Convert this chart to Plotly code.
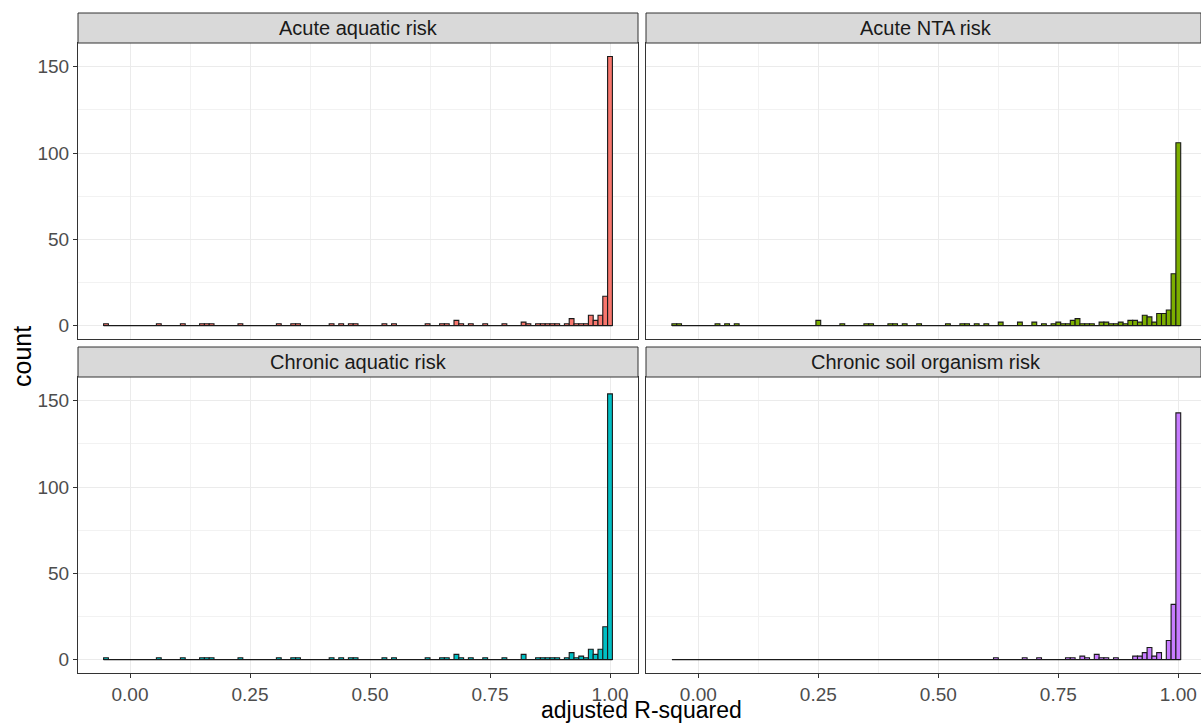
import plotly.graph_objects as go

# ---------------- data (bin centres, binwidth 0.01) ----------------
BIN_WIDTH = 0.01
BIN_FIRST = -0.05
BIN_LAST = 1.00

panel_titles = ["Acute aquatic risk", "Acute NTA risk",
                "Chronic aquatic risk", "Chronic soil organism risk"]
panel_colors = ["#F8766D", "#7CAE00", "#00BFC4", "#C77CFF"]

acute_aquatic_bins = [-0.05, 0.06, 0.11, 0.15, 0.16, 0.17, 0.23, 0.31, 0.34, 0.35,
                      0.42, 0.44, 0.46, 0.47, 0.53, 0.55, 0.62, 0.65, 0.66, 0.68,
                      0.69, 0.71, 0.74, 0.78, 0.82, 0.83, 0.85, 0.86, 0.87, 0.88,
                      0.89, 0.91, 0.92, 0.93, 0.94, 0.95, 0.96, 0.97, 0.98, 0.99, 1.00]
acute_aquatic_counts = [1, 1, 1, 1, 1, 1, 1, 1, 1, 1,
                        1, 1, 1, 1, 1, 1, 1, 1, 1, 3,
                        1, 1, 1, 1, 2, 1, 1, 1, 1, 1,
                        1, 1, 4, 1, 1, 1, 6, 3, 6, 17, 156]

acute_nta_bins = [-0.05, -0.04, 0.04, 0.06, 0.08, 0.25, 0.30, 0.35, 0.36, 0.40,
                  0.41, 0.43, 0.46, 0.52, 0.55, 0.56, 0.58, 0.60, 0.63, 0.67,
                  0.70, 0.72, 0.74, 0.75, 0.76, 0.77, 0.78, 0.79, 0.80, 0.81,
                  0.82, 0.84, 0.85, 0.86, 0.87, 0.88, 0.89, 0.90, 0.91, 0.92,
                  0.93, 0.94, 0.95, 0.96, 0.97, 0.98, 0.99, 1.00]
acute_nta_counts = [1, 1, 1, 1, 1, 3, 1, 1, 1, 1,
                    1, 1, 1, 1, 1, 1, 1, 1, 2, 2,
                    2, 1, 1, 2, 1, 1, 3, 4, 1, 1,
                    1, 2, 2, 1, 1, 2, 1, 3, 3, 2,
                    6, 5, 2, 7, 7, 9, 30, 106]

chronic_aquatic_bins = [-0.05, 0.06, 0.11, 0.15, 0.16, 0.17, 0.23, 0.31, 0.34, 0.35,
                        0.42, 0.44, 0.46, 0.47, 0.53, 0.55, 0.62, 0.65, 0.66, 0.68,
                        0.69, 0.71, 0.74, 0.78, 0.82, 0.85, 0.86, 0.87, 0.88, 0.89,
                        0.91, 0.92, 0.93, 0.94, 0.95, 0.96, 0.97, 0.98, 0.99, 1.00]
chronic_aquatic_counts = [1, 1, 1, 1, 1, 1, 1, 1, 1, 1,
                          1, 1, 1, 1, 1, 1, 1, 1, 1, 3,
                          1, 1, 1, 1, 3, 1, 1, 1, 1, 1,
                          1, 4, 1, 2, 1, 6, 3, 6, 19, 154]

chronic_soil_bins = [0.62, 0.68, 0.71, 0.77, 0.78, 0.80, 0.81, 0.83, 0.84, 0.85,
                     0.87, 0.91, 0.92, 0.93, 0.94, 0.95, 0.96, 0.98, 0.99, 1.00]
chronic_soil_counts = [1, 1, 1, 1, 1, 2, 1, 3, 1, 1,
                       1, 2, 2, 4, 7, 2, 4, 11, 32, 143]

panel_bins = [acute_aquatic_bins, acute_nta_bins, chronic_aquatic_bins, chronic_soil_bins]
panel_counts = [acute_aquatic_counts, acute_nta_counts, chronic_aquatic_counts, chronic_soil_counts]

x_tick_vals = [0, 0.25, 0.5, 0.75, 1.0]
x_tick_text = ["0.00", "0.25", "0.50", "0.75", "1.00"]
x_minor_vals = [0.125, 0.375, 0.625, 0.875]
y_tick_vals = [0, 50, 100, 150]
y_minor_vals = [25, 75, 125]

x_title = "adjusted R-squared"
y_title = "count"

# ---------------- layout geometry ----------------
W, H = 1201, 724
FONT = "Liberation Sans, Arial, sans-serif"


def px(x):
    return x / W


def py(y):
    return 1 - y / H


# panel pixel boxes (left, right, top, bottom)
cols = [(78, 638), (646, 1201)]
rows = [(43, 339), (377, 673)]
strip_h = 30
x_zero_px = [130, 698.3]
px_per_unit = 480.0
y_range = [-7.8, 163.8]

fig = go.Figure()
layout = dict(
    width=W, height=H,
    margin=dict(l=0, r=0, t=0, b=0),
    paper_bgcolor="white", plot_bgcolor="white",
    showlegend=False, barmode="overlay",
    font=dict(family=FONT, color="#4D4D4D"),
    shapes=[], annotations=[],
)

for i in range(4):
    r, c = divmod(i, 2)
    idx = "" if i == 0 else str(i + 1)
    xa, ya = "x" + idx, "y" + idx
    l, rt = cols[c]
    t, b = rows[r]
    xr = [(l - x_zero_px[c]) / px_per_unit, (rt - x_zero_px[c]) / px_per_unit]

    fig.add_trace(go.Bar(
        x=panel_bins[i], y=panel_counts[i], width=BIN_WIDTH,
        marker=dict(color=panel_colors[i], line=dict(color="#1A1A1A", width=1.1)),
        xaxis=xa, yaxis=ya, hoverinfo="x+y",
    ))
    fig.add_trace(go.Scatter(
        x=[BIN_FIRST - BIN_WIDTH / 2, BIN_LAST + BIN_WIDTH / 2], y=[0, 0],
        mode="lines", line=dict(color="#1A1A1A", width=1.3),
        xaxis=xa, yaxis=ya, hoverinfo="skip",
    ))

    bottom_row = (r == 1)
    left_col = (c == 0)
    layout["xaxis" + idx] = dict(
        domain=[px(l), px(rt)], range=xr, anchor=ya,
        tickvals=x_tick_vals, ticktext=x_tick_text,
        showticklabels=bottom_row, ticks="outside" if bottom_row else "",
        ticklen=4, tickwidth=1, tickcolor="#333333",
        tickfont=dict(size=19, color="#4D4D4D", family=FONT),
        showgrid=True, gridcolor="#EBEBEB", gridwidth=1,
        minor=dict(tickvals=x_minor_vals, showgrid=True, gridcolor="#F2F2F2", gridwidth=1),
        zeroline=False, showline=True, mirror=True, linecolor="#333333", linewidth=1,
    )
    layout["yaxis" + idx] = dict(
        domain=[py(b), py(t)], range=y_range, anchor=xa,
        tickvals=y_tick_vals,
        showticklabels=left_col, ticks="outside" if left_col else "",
        ticklen=4, tickwidth=1, tickcolor="#333333",
        tickfont=dict(size=19, color="#4D4D4D", family=FONT),
        showgrid=True, gridcolor="#EBEBEB", gridwidth=1,
        minor=dict(tickvals=y_minor_vals, showgrid=True, gridcolor="#F2F2F2", gridwidth=1),
        zeroline=False, showline=True, mirror=True, linecolor="#333333", linewidth=1,
    )

    # strip
    layout["shapes"].append(dict(
        type="rect", xref="paper", yref="paper",
        x0=px(l), x1=px(rt), y0=py(t), y1=py(t - strip_h),
        fillcolor="#D9D9D9", line=dict(color="#333333", width=1), layer="above",
    ))
    layout["annotations"].append(dict(
        text=panel_titles[i], xref="paper", yref="paper",
        x=px((l + (l + 560)) / 2), y=py(t - strip_h / 2),
        xanchor="center", yanchor="middle", showarrow=False,
        font=dict(size=20, color="#1A1A1A", family=FONT),
    ))

layout["annotations"].append(dict(
    text=x_title, xref="paper", yref="paper", x=px(641), y=py(710),
    xanchor="center", yanchor="middle", showarrow=False,
    font=dict(size=23, color="black", family=FONT),
))
layout["annotations"].append(dict(
    text=y_title, xref="paper", yref="paper", x=px(22), y=py(357),
    xanchor="center", yanchor="middle", showarrow=False, textangle=-90,
    font=dict(size=25, color="black", family=FONT),
))

fig.update_layout(**layout)
fig.write_html("out.html")
